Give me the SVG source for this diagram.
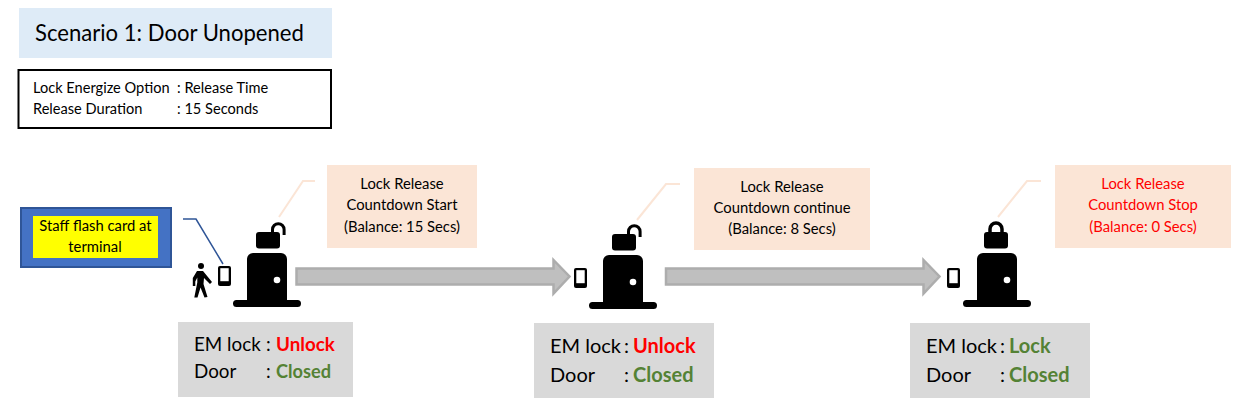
<svg xmlns="http://www.w3.org/2000/svg" width="1238" height="406" viewBox="0 0 1238 406">
<style>
text{font-family:"Lato","Open Sans","Liberation Sans",sans-serif;fill:#000}
.s{font-size:14.600px}
.c{font-size:14.800px;text-anchor:middle}
.st{font-size:18.800px}
.sl{font-size:20px}
.b{font-weight:700}
.r{fill:#f00}
.g{fill:#548235}
.call{fill:#fbe5d6}
.lead{fill:none;stroke:#fbe5d6;stroke-width:2}
.arrow{fill:#bfbfbf;stroke:#adadad;stroke-width:2.500}
.status{fill:#d9d9d9}
</style>
<defs>
<g id="door">
<path d="M233 303.500a3.500 3.500 0 0 1 3.500-3.500H247V259a6 6 0 0 1 6-6h28a6 6 0 0 1 6 6v41h10.500a3.500 3.500 0 0 1 0 7h-61a3.500 3.500 0 0 1-3.500-3.500z"/>
<circle cx="277" cy="280" r="3.300" fill="#fff"/>
</g>
<g id="phone"><rect x="218" y="266" width="13" height="20" rx="2"/><rect x="220.300" y="268.200" width="8.400" height="13" fill="#fff"/></g>
<g id="openlock"><rect x="256" y="232" width="24" height="16.500" rx="3"/><path d="M272.500 233v-3.500a5.800 5.800 0 0 1 11.600 0v5.500" fill="none" stroke="#000" stroke-width="3"/></g>
</defs>
<g id="title"><rect x="19" y="8" width="313" height="50" fill="#deebf7"/><text x="35" y="41" style="font-size:22.100px">Scenario 1: Door Unopened</text></g>
<g id="options"><rect x="18.500" y="70" width="312.500" height="58" fill="#fff" stroke="#000" stroke-width="2"/>
<text class="s" x="33" y="93">Lock Energize Option</text><text class="s" x="177" y="93">: Release Time</text>
<text class="s" x="33" y="114">Release Duration</text><text class="s" x="177" y="114">: 15 Seconds</text></g>
<g id="connectors">
<path class="arrow" d="M296.500 268.500H553.500V260L569.500 276.500L553.500 293.500V284.500H296.500Z"/>
<path class="arrow" d="M666 268.500H923.500V260L939.500 276.500L923.500 293.500V284.500H666Z"/>
<path d="M183 219H196L223 264" fill="none" stroke="#2f5597" stroke-width="1.500"/>
<path class="lead" d="M315 181H303L279 217"/>
<path class="lead" d="M680 184H666L637 220"/>
<path class="lead" d="M1041 181H1027L998 217"/>
</g>
<g id="staff"><rect x="21" y="208" width="150" height="59" fill="#4472c4" stroke="#2f5597" stroke-width="2"/><rect x="33" y="216" width="125" height="42" fill="#ff0"/>
<text class="c" x="95.500" y="231">Staff flash card at</text><text class="c" x="95" y="252">terminal</text></g>
<g id="person"><circle cx="201" cy="266" r="3"/><path d="M197 271h6l9 11-2 2-6-6-.5 6 4 13-3 .5-4-10-3 10h-3.200l3-15v-5l-2 4v4.500h-2.500v-8z"/></g>
<g id="stage1"><use href="#door"/><use href="#phone"/><use href="#openlock"/>
<rect class="call" x="327" y="165" width="150" height="83"/>
<text class="c" x="402" y="189">Lock Release</text><text class="c" x="402" y="210">Countdown Start</text><text class="c" x="402" y="232">(Balance: 15 Secs)</text>
<rect class="status" x="178" y="322" width="175" height="75"/>
<text class="st" x="194" y="351">EM lock</text><text class="st" x="266" y="351">:</text><text class="st b r" x="276" y="351">Unlock</text>
<text class="st" x="194" y="378">Door</text><text class="st" x="266" y="378">:</text><text class="st b g" x="276" y="378" style="font-size:18.200px">Closed</text></g>
<g id="stage2"><use href="#door" x="356" y="2"/><use href="#phone" x="356" y="2"/><use href="#openlock" x="356" y="2"/>
<rect class="call" x="694" y="168" width="176" height="82"/>
<text class="c" x="782" y="192">Lock Release</text><text class="c" x="782" y="213">Countdown continue</text><text class="c" x="782" y="234">(Balance: 8 Secs)</text>
<rect class="status" x="534" y="323" width="180" height="75"/>
<text class="sl" x="550" y="353">EM lock</text><text class="sl" x="624" y="353">:</text><text class="sl b r" x="633" y="353">Unlock</text>
<text class="sl" x="550" y="382">Door</text><text class="sl" x="624" y="382">:</text><text class="sl b g" x="633" y="382">Closed</text></g>
<g id="stage3"><use href="#door" x="730"/><use href="#phone" x="729" y="2"/>
<rect x="984" y="232" width="24" height="16.500" rx="3"/><path d="M990 233v-4a6 6 0 0 1 12 0v4" fill="none" stroke="#000" stroke-width="3.500"/>
<rect class="call" x="1055" y="165" width="176" height="83"/>
<text class="c r" x="1143" y="189">Lock Release</text><text class="c r" x="1143" y="210">Countdown Stop</text><text class="c r" x="1143" y="232">(Balance: 0 Secs)</text>
<rect class="status" x="910" y="323" width="180" height="75"/>
<text class="sl" x="926" y="353">EM lock</text><text class="sl" x="1000" y="353">:</text><text class="sl b g" x="1009" y="353">Lock</text>
<text class="sl" x="926" y="382">Door</text><text class="sl" x="1000" y="382">:</text><text class="sl b g" x="1009" y="382">Closed</text></g>
</svg>
